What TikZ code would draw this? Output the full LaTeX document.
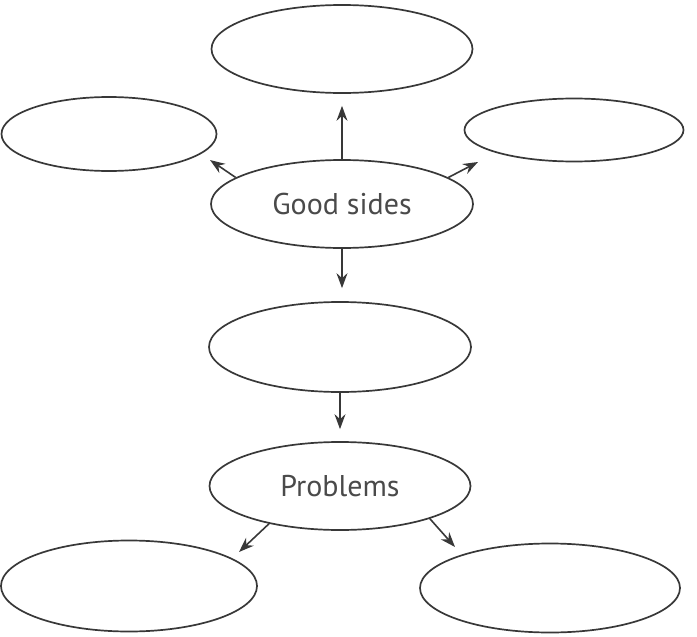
\documentclass[tikz,border=0pt]{standalone}
\usepackage{fontspec}
\setmainfont{PT Sans}
\usetikzlibrary{shapes.geometric,arrows.meta}
\definecolor{linec}{HTML}{383838}
\definecolor{textc}{HTML}{4A4A4A}
\tikzset{
  oval/.style={ellipse,draw=linec,line width=1.7pt,inner sep=0pt,
    text=textc,font=\fontsize{30}{34}\selectfont},
  arr/.style={draw=linec,line width=1.6pt,-{Stealth[length=15pt,width=11pt,inset=5pt]}}
}
\begin{document}
\begin{tikzpicture}[x=1pt,y=-1pt]
\useasboundingbox (0,0) rectangle (697,637);
\node[oval,minimum width=261pt,minimum height=88pt] (top) at (342,49) {};
\node[oval,minimum width=215pt,minimum height=74pt] (left) at (109,134) {};
\node[oval,minimum width=219pt,minimum height=63pt] (right) at (574,130) {};
\node[oval,minimum width=262pt,minimum height=88pt] (gs) at (342,204) {Good sides};
\node[oval,minimum width=262pt,minimum height=90pt] (mid) at (340,347) {};
\node[oval,minimum width=261pt,minimum height=88pt] (prob) at (340,486) {Problems};
\node[oval,minimum width=256pt,minimum height=91pt] (bl) at (129,586) {};
\node[oval,minimum width=260pt,minimum height=89pt] (br) at (550,588) {};
\coordinate (tL) at (210,160);
\coordinate (tR) at (478,162);
\coordinate (tBL) at (239,552);
\coordinate (tBR) at (455,547);
\draw[arr,shorten >=12pt] (gs.north) -- (gs.north |- top.south);
\draw[arr] (gs.166) -- (tL);
\draw[arr] (gs.14) -- (tR);
\draw[arr,shorten >=13pt] (gs.south) -- (gs.south |- mid.north);
\draw[arr,shorten >=12pt] (mid.south) -- (prob.north);
\draw[arr] (prob.208) -- (tBL);
\draw[arr] (prob.340) -- (tBR);
\end{tikzpicture}
\end{document}
